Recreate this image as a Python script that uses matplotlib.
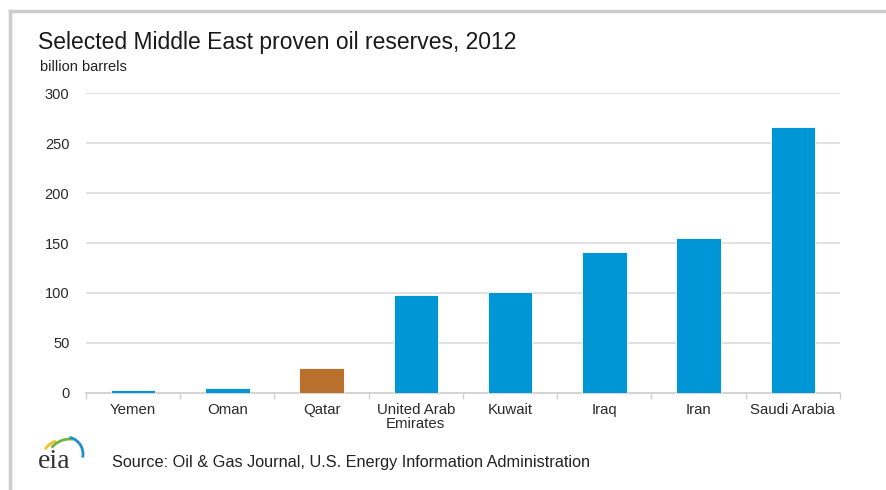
import matplotlib
matplotlib.use("Agg")
import matplotlib.pyplot as plt
from matplotlib.patches import Arc
from matplotlib.lines import Line2D

plt.rcParams['font.family'] = ['Liberation Sans', 'DejaVu Sans']

countries = ["Yemen", "Oman", "Qatar", "United Arab\nEmirates", "Kuwait", "Iraq", "Iran", "Saudi Arabia"]
reserves = [3.0, 5.5, 25.4, 97.8, 101.5, 141.4, 154.6, 266.0]
bar_colors = ["#0096d6", "#0096d6", "#b8702c", "#0096d6", "#0096d6", "#0096d6", "#0096d6", "#0096d6"]
y_ticks = [0, 50, 100, 150, 200, 250, 300]

W, H = 887, 490
fig = plt.figure(figsize=(W / 100, H / 100), dpi=100)
fig.patch.set_facecolor("white")

ax = fig.add_axes([86 / W, 1 - 393 / H, (840 - 86) / W, 300 / H])
x = list(range(len(countries)))
ax.bar(x, reserves, width=0.47, color=bar_colors, edgecolor="white", linewidth=0.6, zorder=3)

ax.set_xlim(-0.5, len(countries) - 0.5)
ax.set_ylim(0, 300)
ax.set_yticks(y_ticks)
ax.set_yticklabels([str(v) for v in y_ticks], fontsize=10.5, color="#2a2a2a")
ax.set_xticks(x)
ax.set_xticklabels(countries, fontsize=10.8, color="#2a2a2a", linespacing=1.0)
ax.set_xticks([i - 0.5 for i in range(len(countries) + 1)], minor=True)
ax.tick_params(axis="x", which="major", length=0, pad=7)
ax.tick_params(axis="x", which="minor", length=4, color="#d0d0d0", width=1)
ax.tick_params(axis="y", length=0, pad=12)
ax.grid(axis="y", color="#dcdcdc", linewidth=1.2, zorder=0)
for s in ["top", "right", "left"]:
    ax.spines[s].set_visible(False)
ax.spines["bottom"].set_color("#d0d0d0")
ax.spines["bottom"].set_linewidth(1.2)

fig.text(38 / W, 1 - 49 / H, "Selected Middle East proven oil reserves, 2012",
         fontsize=16.5, color="#1a1a1a")
fig.text(40 / W, 1 - 71 / H, "billion barrels", fontsize=10.5, color="#222222")
fig.text(112 / W, 1 - 467 / H, "Source: Oil & Gas Journal, U.S. Energy Information Administration",
         fontsize=11.7, color="#222222")

# frame around the graphic
fig.add_artist(Line2D([10 / W, 10 / W], [0, 1 - 11 / H], color="#cccccc", lw=2.5))
fig.add_artist(Line2D([10 / W, 1], [1 - 11 / H, 1 - 11 / H], color="#cccccc", lw=2.5))

# eia logo
lax = fig.add_axes([36 / W, 16 / H, 54 / W, 44 / H])
lax.set_xlim(36, 90)
lax.set_ylim(16, 60)
lax.axis("off")
lax.text(38, 22, "eia", family="Liberation Serif", fontsize=20, color="#333333")
lax.add_patch(Arc((62, 30), 40, 40, theta1=108, theta2=148, color="#f2c12e", lw=2))
lax.add_patch(Arc((70, 27), 48, 48, theta1=82, theta2=140, color="#6db33f", lw=2))
lax.add_patch(Arc((66, 36), 34, 34, theta1=-12, theta2=78, color="#1f8fd0", lw=2))

fig.savefig("out.png", dpi=100)
